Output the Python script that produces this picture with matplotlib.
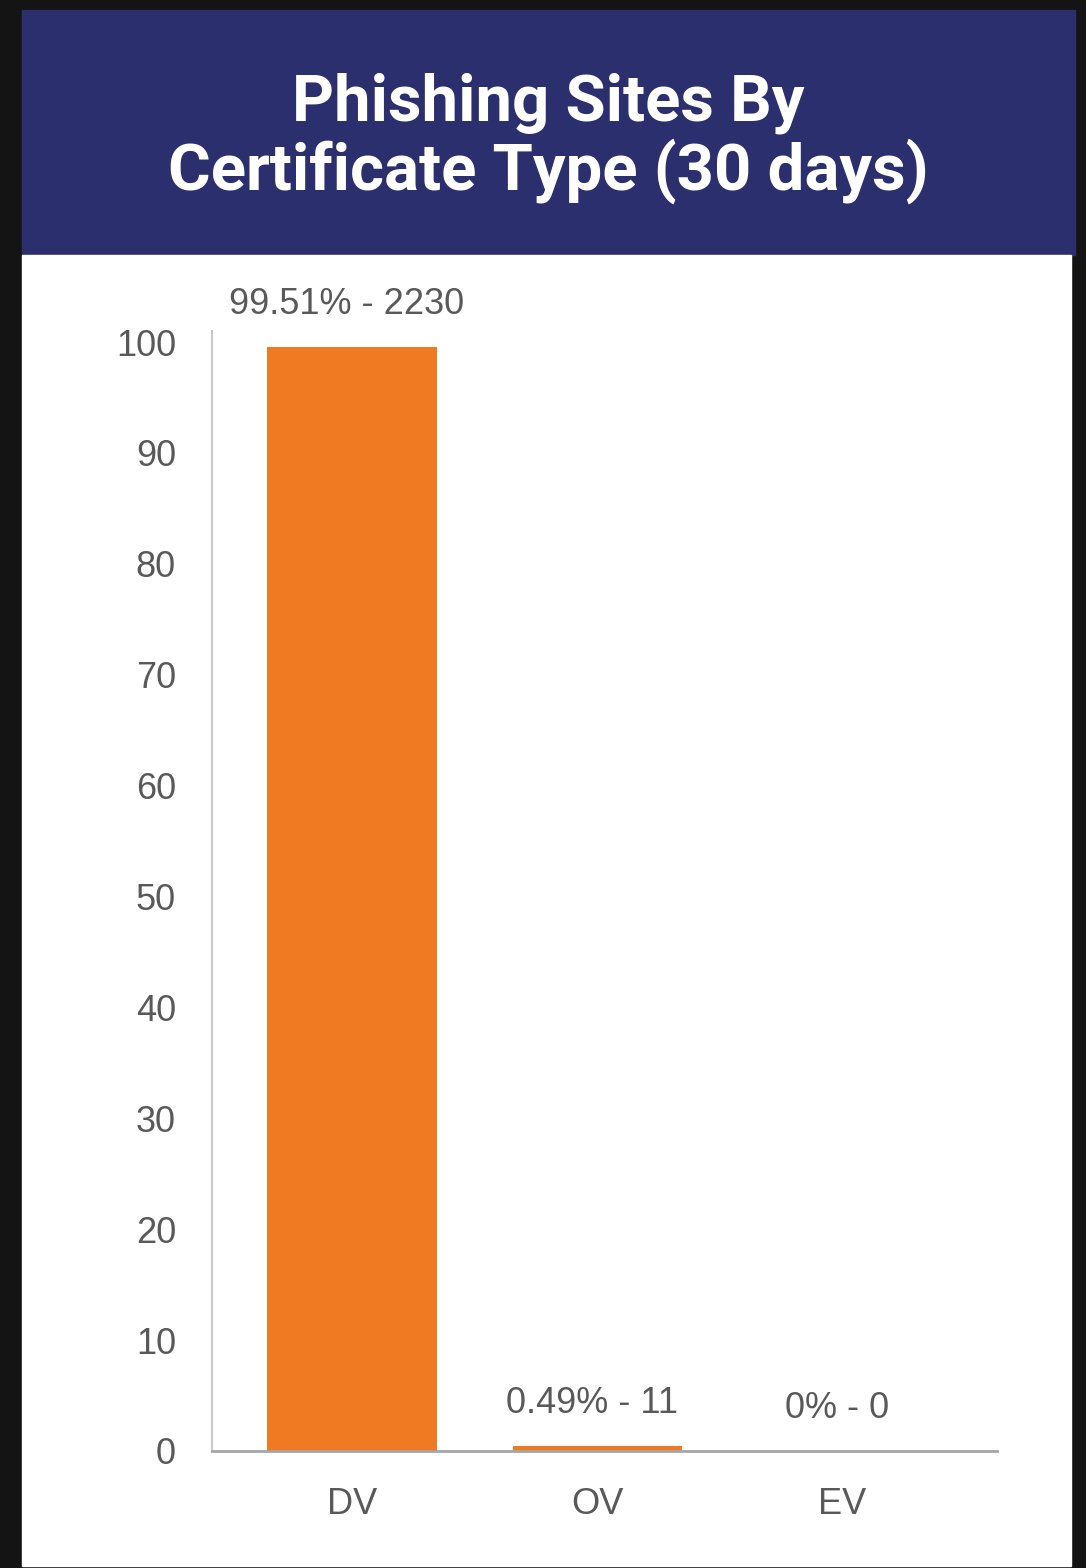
import matplotlib.pyplot as plt
from matplotlib.patches import Rectangle

categories = ['DV', 'OV', 'EV']
percents = [99.51, 0.49, 0.0]
counts = [2230, 11, 0]
yticks = [0, 10, 20, 30, 40, 50, 60, 70, 80, 90, 100]

W, H = 1086, 1568
navy = '#2b2f6e'
orange = '#f07a22'
grey = '#595959'

fig = plt.figure(figsize=(W / 100, H / 100), dpi=100)
fig.patch.set_facecolor('#141414')

# header band and white panel (pixel coords -> figure fraction)
def box(x0, y0, x1, y1, color):
    fig.patches.append(Rectangle((x0 / W, 1 - y1 / H), (x1 - x0) / W, (y1 - y0) / H,
                                 transform=fig.transFigure, color=color, zorder=-5))

box(22, 10, 1075, 255, navy)
box(22, 255, 1071, 1566, 'white')

fig.text(548 / W, 1 - 138 / H, 'Phishing Sites By\nCertificate Type (30 days)',
         ha='center', va='center', color='white', fontsize=47,
         fontweight='bold', family='Roboto', linespacing=1.08)

# axes area: x 212..997, y 342 (100) .. 1451 (0)
ax_left, ax_right = 212, 997
ax_top, ax_bottom = 342, 1451
ax = fig.add_axes([ax_left / W, 1 - ax_bottom / H,
                   (ax_right - ax_left) / W, (ax_bottom - ax_top) / H])
ax.set_facecolor('none')

x = range(len(categories))
ax.bar(x, percents, width=0.69, color=orange, zorder=2)
ax.set_xlim(-0.571, 2.63)
ax.set_ylim(0, 100)

for i, (p, c) in enumerate(zip(percents, counts)):
    pct = ('%g' % p) + '%'
    ax.annotate('%s - %d' % (pct, c), (i, p), xytext=(-4, 18),
                textcoords='offset points', ha='center', va='bottom',
                fontsize=26, color=grey, family='Liberation Sans', annotation_clip=False)

ax.set_yticks(yticks)
ax.set_xticks(list(x))
ax.set_xticklabels(categories)
for lab in ax.get_xticklabels() + ax.get_yticklabels():
    lab.set_family('Liberation Sans')
    lab.set_fontsize(26)
    lab.set_color(grey)
ax.tick_params(axis='y', length=0, pad=26)
ax.tick_params(axis='x', length=0, pad=26)

for s in ['top', 'right']:
    ax.spines[s].set_visible(False)
ax.spines['left'].set_color('#c8c8c8')
ax.spines['left'].set_linewidth(1.5)
ax.spines['left'].set_bounds(0, 101)
ax.spines['bottom'].set_color('#a6a6a6')
ax.spines['bottom'].set_linewidth(2)

fig.savefig('out.png', dpi=100, facecolor=fig.get_facecolor())
